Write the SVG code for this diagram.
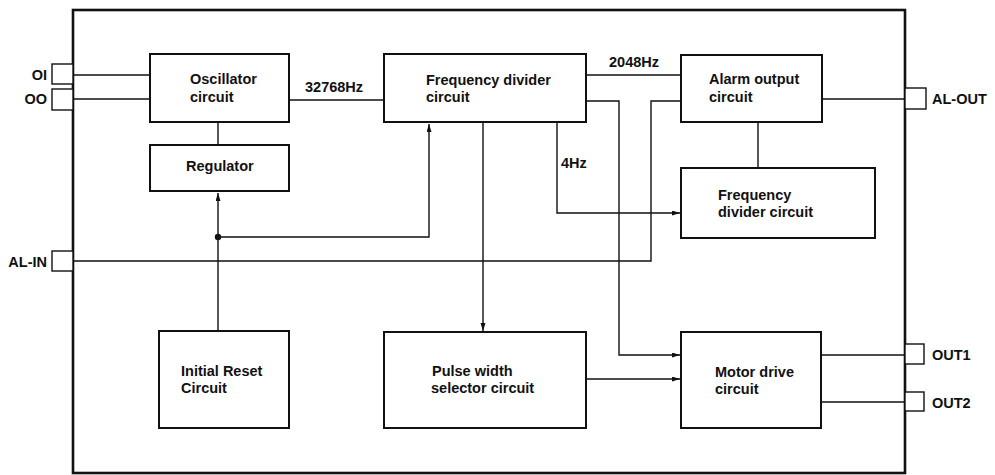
<svg xmlns="http://www.w3.org/2000/svg" width="995" height="475" viewBox="0 0 995 475">
<style>
.box{fill:#fff;stroke:#111;stroke-width:2}
.pin{fill:#fff;stroke:#111;stroke-width:1.4}
.frame{fill:none;stroke:#111;stroke-width:2.6}
.ln{fill:none;stroke:#111;stroke-width:1.4}
text{font-family:"Liberation Sans",Arial,sans-serif;font-size:14.5px;font-weight:bold;fill:#111}
</style>
<defs>
<marker id="ah" markerUnits="userSpaceOnUse" markerWidth="9" markerHeight="6" refX="8" refY="2.5" orient="auto">
<path d="M0,0 L8,2.5 L0,5 z" fill="#111"/>
</marker>
</defs>
<rect width="995" height="475" fill="#fff"/>
<rect class="frame" x="73" y="10" width="832" height="463"/>
<g id="pins">
<rect class="pin" x="52" y="64" width="21" height="20"/>
<text x="47" y="80" text-anchor="end">OI</text>
<rect class="pin" x="52" y="89" width="21" height="21"/>
<text x="47" y="104" text-anchor="end">OO</text>
<rect class="pin" x="52" y="251" width="21" height="20"/>
<text x="47" y="267" text-anchor="end">AL-IN</text>
<rect class="pin" x="905" y="88" width="21" height="21"/>
<text x="932" y="104">AL-OUT</text>
<rect class="pin" x="905" y="344" width="19" height="20"/>
<text x="932" y="360">OUT1</text>
<rect class="pin" x="905" y="392" width="19" height="19"/>
<text x="932" y="408">OUT2</text>
</g>
<g id="connectors">
<path class="ln" d="M73,75 H150"/>
<path class="ln" d="M73,99 H150"/>
<path class="ln" d="M289,100 H384"/>
<path class="ln" d="M218,122 V145"/>
<path class="ln" d="M218,331 V193" marker-end="url(#ah)"/>
<path class="ln" d="M218,237 H429 V124" marker-end="url(#ah)"/>
<circle cx="218" cy="237" r="3.2" fill="#111"/>
<path class="ln" d="M73,261 H651 V101 H681"/>
<path class="ln" d="M586,75 H681"/>
<path class="ln" d="M586,101 H619 V355 H680" marker-end="url(#ah)"/>
<path class="ln" d="M557,122 V213 H680" marker-end="url(#ah)"/>
<path class="ln" d="M758,122 V168"/>
<path class="ln" d="M822,99 H905"/>
<path class="ln" d="M483,122 V331" marker-end="url(#ah)"/>
<path class="ln" d="M586,379 H680" marker-end="url(#ah)"/>
<path class="ln" d="M821,355 H905"/>
<path class="ln" d="M821,402 H905"/>
<text x="305" y="92">32768Hz</text>
<text x="609" y="67">2048Hz</text>
<text x="561" y="168">4Hz</text>
</g>
<g id="oscillator">
<rect class="box" x="150" y="54" width="139" height="68"/>
<text x="190" y="84">Oscillator</text>
<text x="190" y="102">circuit</text>
</g>
<g id="regulator">
<rect class="box" x="150" y="145" width="139" height="46"/>
<text x="186" y="171">Regulator</text>
</g>
<g id="initial-reset">
<rect class="box" x="159" y="331" width="130" height="97"/>
<text x="181" y="376">Initial Reset</text>
<text x="181" y="393">Circuit</text>
</g>
<g id="freq-divider">
<rect class="box" x="384" y="54" width="202" height="68"/>
<text x="426" y="85">Frequency divider</text>
<text x="426" y="102">circuit</text>
</g>
<g id="alarm-output">
<rect class="box" x="681" y="55" width="141" height="67"/>
<text x="709" y="84">Alarm output</text>
<text x="709" y="102">circuit</text>
</g>
<g id="freq-divider-2">
<rect class="box" x="681" y="168" width="194" height="70"/>
<text x="718" y="200">Frequency</text>
<text x="718" y="217">divider circuit</text>
</g>
<g id="pulse-width">
<rect class="box" x="384" y="332" width="202" height="96"/>
<text x="432" y="376">Pulse width</text>
<text x="431" y="393">selector circuit</text>
</g>
<g id="motor-drive">
<rect class="box" x="681" y="332" width="140" height="96"/>
<text x="715" y="377">Motor drive</text>
<text x="715" y="394">circuit</text>
</g>
</svg>
